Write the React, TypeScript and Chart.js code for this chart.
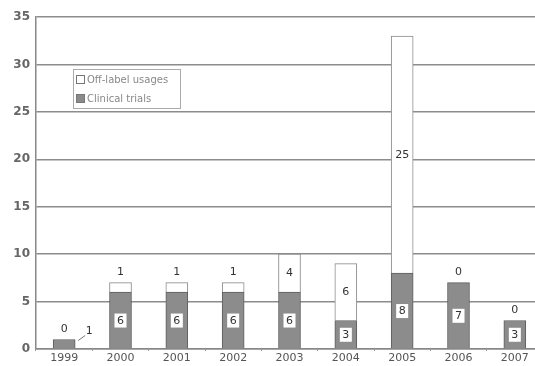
import React, { useEffect, useRef } from "react";
import { Chart, registerables } from "chart.js";

Chart.register(...registerables);

const years = ["1999", "2000", "2001", "2002", "2003", "2004", "2005", "2006", "2007"];
const clinicalTrials = [1, 6, 6, 6, 6, 3, 8, 7, 3];
const offLabel = [0, 1, 1, 1, 4, 6, 25, 0, 0];
const yTicks = [0, 5, 10, 15, 20, 25, 30, 35];

const FONT = '"DejaVu Sans", sans-serif';

const labelPlugin = {
  id: "barLabels",
  afterDatasetsDraw(chart: any) {
    const ctx = chart.ctx;
    const y = chart.scales.y;
    const m0 = chart.getDatasetMeta(0);
    ctx.save();
    ctx.font = `11px ${FONT}`;
    ctx.textAlign = "center";
    ctx.textBaseline = "middle";
    years.forEach((_, i) => {
      const b0 = m0.data[i];
      const c = clinicalTrials[i];
      const o = offLabel[i];
      const x = b0.x;
      if (c >= 2) {
        const cy = y.getPixelForValue(c / 2);
        ctx.fillStyle = "#ffffff";
        ctx.fillRect(x - 6, cy - 7, 12, 14);
        ctx.fillStyle = "#333333";
        ctx.fillText(String(c), x, cy + 0.5);
      } else {
        const topY = y.getPixelForValue(c);
        ctx.strokeStyle = "#777";
        ctx.lineWidth = 1;
        ctx.beginPath();
        ctx.moveTo(x + 14, topY + 1);
        ctx.lineTo(x + 21, topY - 4);
        ctx.stroke();
        ctx.fillStyle = "#333333";
        ctx.fillText(String(c), x + 25, topY - 8);
      }
      const total = c + o;
      if (o >= 3) {
        const oy = y.getPixelForValue(c + o / 2);
        ctx.fillStyle = "#ffffff";
        ctx.fillRect(x - 6, oy - 7, 12, 14);
        ctx.fillStyle = "#333333";
        ctx.fillText(String(o), x, oy + 0.5);
      } else {
        const ty = y.getPixelForValue(total);
        ctx.fillStyle = "#333333";
        ctx.fillText(String(o), x, ty - 10);
      }
    });
    const lx = 73, ly = 69, lw = 107, lh = 39;
    ctx.fillStyle = "#ffffff";
    ctx.fillRect(lx, ly, lw, lh);
    ctx.strokeStyle = "#aaaaaa";
    ctx.lineWidth = 1;
    ctx.strokeRect(lx + 0.5, ly + 0.5, lw, lh);
    ctx.font = `10px ${FONT}`;
    ctx.textAlign = "left";
    const items = [
      { label: chart.data.datasets[1].label, fill: "#ffffff", y: ly + 11 },
      { label: chart.data.datasets[0].label, fill: "#8a8a8a", y: ly + 30 },
    ];
    items.forEach((it) => {
      ctx.fillStyle = it.fill;
      ctx.fillRect(lx + 3.5, it.y - 4.5, 8, 8);
      ctx.strokeStyle = "#777";
      ctx.strokeRect(lx + 3.5, it.y - 4.5, 8, 8);
      ctx.fillStyle = "#888888";
      ctx.fillText(it.label, lx + 14, it.y);
    });
    ctx.restore();
  },
};

export default function App() {
  const ref = useRef<HTMLCanvasElement>(null);
  useEffect(() => {
    const chart = new Chart(ref.current!, {
      type: "bar",
      data: {
        labels: years,
        datasets: [
          {
            label: "Clinical trials",
            data: clinicalTrials,
            backgroundColor: "#8c8c8c",
            borderColor: "#5e5e5e",
            borderWidth: 1,
            barThickness: 22,
          },
          {
            label: "Off-label usages",
            data: offLabel,
            backgroundColor: "#ffffff",
            borderColor: "#8a8a8a",
            borderWidth: 1,
            barThickness: 22,
          },
        ],
      },
      options: {
        animation: false,
        responsive: false,
        maintainAspectRatio: false,
        layout: { padding: { top: 17, right: 2, left: 0, bottom: 0 } },
        plugins: { legend: { display: false }, tooltip: { enabled: false } },
        scales: {
          x: {
            stacked: true,
            grid: { display: true, drawOnChartArea: false, tickLength: 2, color: "#999" },
            border: { display: true, color: "#888", width: 1.5 },
            ticks: { color: "#555", font: { family: FONT, size: 11 }, padding: 1 },
            afterFit: (s: any) => { s.height = 17; },
          },
          y: {
            stacked: true,
            min: 0,
            max: 35,
            afterBuildTicks: (s: any) => { s.ticks = yTicks.map((v) => ({ value: v })); },
            grid: { color: "#8c8c8c", lineWidth: 1.5, drawTicks: false },
            border: { display: true, color: "#888", width: 1.5 },
            ticks: { color: "#666", font: { family: FONT, size: 12, weight: "bold" }, padding: 6 },
            afterFit: (s: any) => { s.width = 36; },
          },
        },
      },
      plugins: [labelPlugin],
    });
    return () => chart.destroy();
  }, []);
  return (
    <div style={{ position: "fixed", left: 0, top: 0, width: 545, height: 366, overflow: "hidden", background: "#fff" }}>
      <canvas ref={ref} width={545} height={366} style={{ display: "block" }} />
    </div>
  );
}
